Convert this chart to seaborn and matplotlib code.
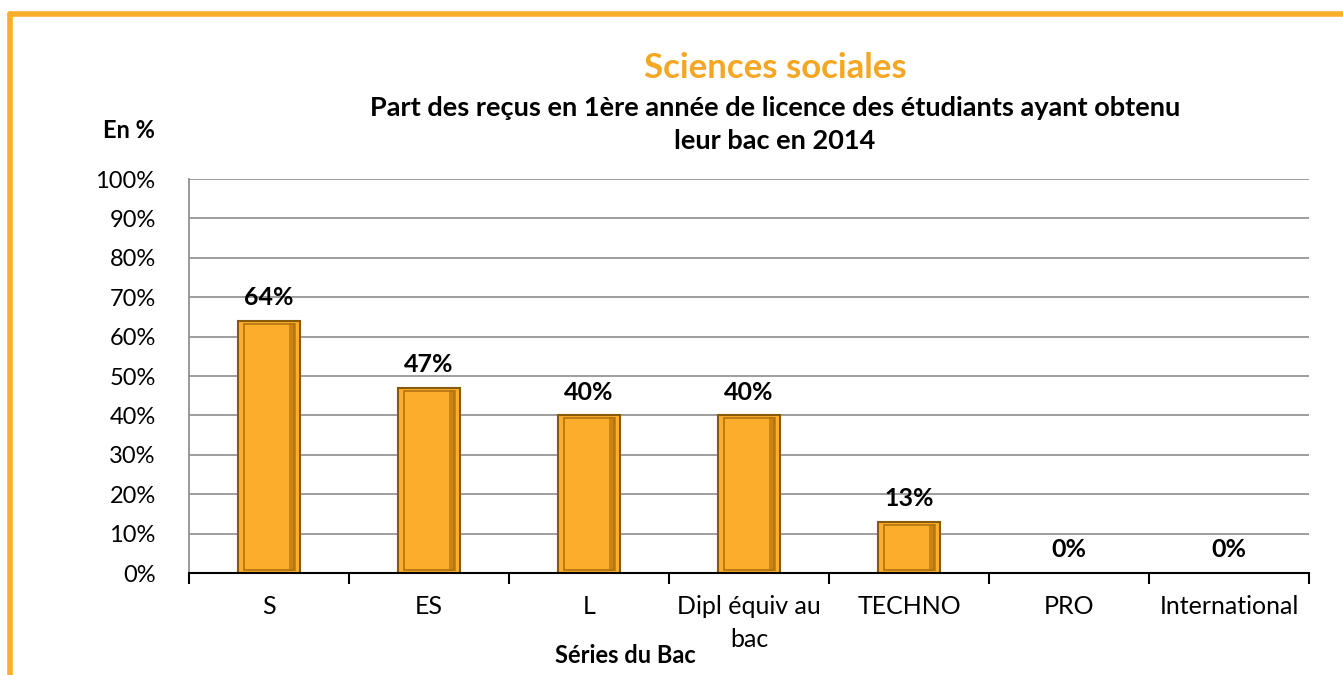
import matplotlib
matplotlib.use("Agg")
import matplotlib.pyplot as plt
import matplotlib.patches as mpatches
import seaborn as sns
import pandas as pd

# Data
series = ["S", "ES", "L", "Dipl équiv au\nbac", "TECHNO", "PRO", "International"]
taux = [64, 47, 40, 40, 13, 0, 0]
y_ticks = [0, 10, 20, 30, 40, 50, 60, 70, 80, 90, 100]

orange = "#FBAE2C"
edge = "#8A5A0B"

sns.set_theme(style="white")
plt.rcParams["font.family"] = ["Lato", "DejaVu Sans"]
plt.rcParams["text.color"] = "black"
plt.rcParams["xtick.color"] = "black"
plt.rcParams["ytick.color"] = "black"
plt.rcParams["axes.labelcolor"] = "black"

df = pd.DataFrame({"serie": series, "taux": taux})

fig = plt.figure(figsize=(13.43, 6.75), dpi=100)
ax = fig.add_axes([0.1407, 0.1511, 0.834, 0.5837])

sns.barplot(data=df, x="serie", y="taux", color=orange, width=0.39,
            edgecolor=edge, linewidth=1.5, saturation=1, ax=ax)

# fake bevel: darker inner frame + shaded right side on every bar
for p in list(ax.patches):
    if p.get_height() <= 0:
        p.set_visible(False)
        continue
    x0, y0 = p.get_x(), p.get_y()
    w, h = p.get_width(), p.get_height()
    ax.add_patch(mpatches.Rectangle((x0 + w * 0.82, y0 + 0.5), w * 0.12, max(h - 1.0, 0),
                                    facecolor="#C98414", edgecolor="none", zorder=3))
    ax.add_patch(mpatches.Rectangle((x0 + w * 0.1, y0 + 0.7), w * 0.8, max(h - 1.4, 0),
                                    fill=False, edgecolor="#B27410", linewidth=1.2, zorder=4))

for i, v in enumerate(taux):
    ax.text(i, v + 3.0, f"{v}%", ha="center", va="bottom", fontsize=18, fontweight="bold")

ax.set_ylim(0, 100)
ax.set_xlim(-0.5, len(series) - 0.5)
ax.set_yticks(y_ticks)
ax.set_yticklabels([f"{t}%" for t in y_ticks], fontsize=17)
ax.yaxis.grid(True, color="#8c8c8c", linewidth=1.2)
ax.set_axisbelow(True)
ax.tick_params(axis="y", length=0, pad=24)

ax.set_xticks(range(len(series)))
ax.set_xticklabels(series, fontsize=18, linespacing=1.5)
ax.tick_params(axis="x", length=0, pad=16)
# separator ticks between categories
ax.set_xticks([i - 0.5 for i in range(len(series) + 1)], minor=True)
ax.tick_params(axis="x", which="minor", length=8, width=1.5, color="black", direction="out", bottom=True)

for s in ["top", "right"]:
    ax.spines[s].set_visible(False)
ax.spines["left"].set_color("#8c8c8c")
ax.spines["bottom"].set_color("black")
ax.spines["bottom"].set_linewidth(1.5)

ax.set_xlabel("Séries du Bac", fontsize=17, fontweight="bold")
ax.set_ylabel("")
ax.xaxis.set_label_coords(0.39, -0.18)

fig.text(0.0767, 0.806, "En %", fontsize=17, fontweight="bold", ha="left", va="center")
fig.text(0.577, 0.899, "Sciences sociales", fontsize=25, fontweight="bold", color="#F5A623",
         ha="center", va="center")
fig.text(0.577, 0.815, "Part des reçus en 1ère année de licence des étudiants ayant obtenu\nleur bac en 2014",
         fontsize=19.5, fontweight="bold", ha="center", va="center", linespacing=1.45)

# orange frame (top and left visible)
fig.add_artist(plt.Line2D([0.0075, 1.0], [0.979, 0.979], color="#FBAE2C", linewidth=4,
                          transform=fig.transFigure))
fig.add_artist(plt.Line2D([0.0075, 0.0075], [0.0, 0.979], color="#FBAE2C", linewidth=4,
                          transform=fig.transFigure))

fig.savefig("out.png", dpi=100)
